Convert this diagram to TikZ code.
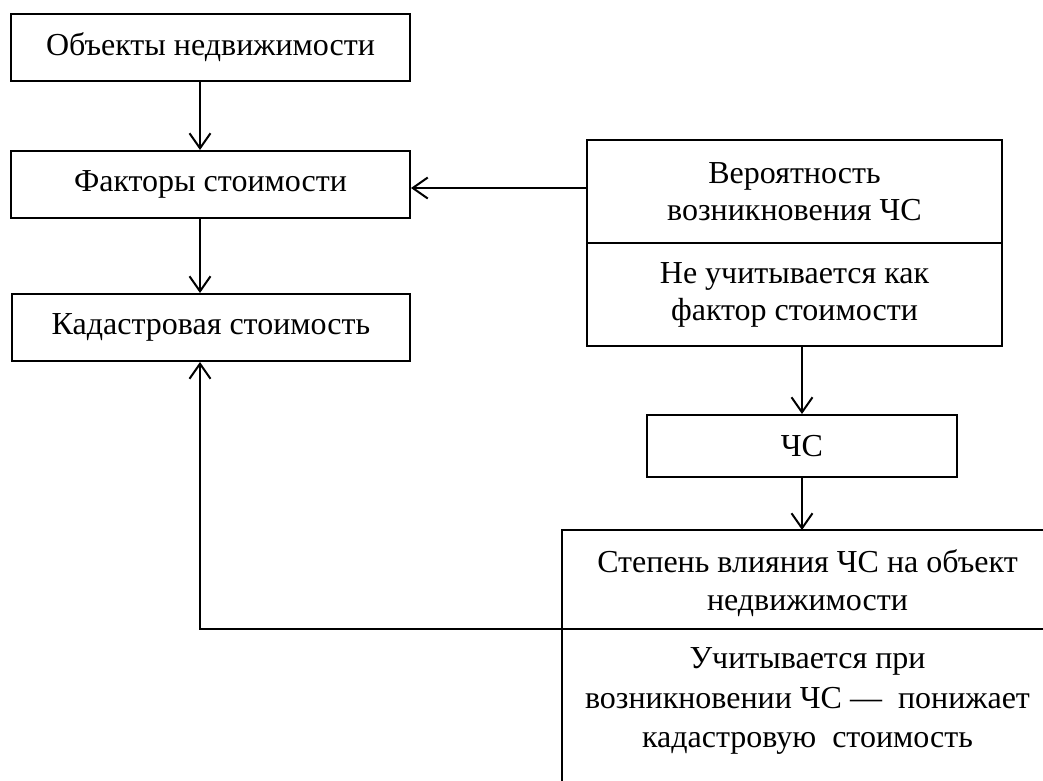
\documentclass[tikz,border=0pt]{standalone}
\usepackage{fontspec}
\setmainfont{Liberation Serif}
\usetikzlibrary{arrows.meta}
\begin{document}
\begin{tikzpicture}[x=1pt,y=-1pt,line width=2pt,
  txt/.style={inner sep=0pt,align=center,font=\fontsize{32}{37}\selectfont},
  box/.style={txt,draw,line width=2pt},
  arr/.style={-{Straight Barb[length=15pt,width=21pt]},line width=2pt}]
\useasboundingbox (0,0) rectangle (1043,780);
\clip (0,0) rectangle (1043,780);
% left column
\node[box,minimum width=399pt,minimum height=67pt] (obj) at (210.5,47.5) {Объекты недвижимости};
\node[box,minimum width=399pt,minimum height=67pt] (fac) at (210.5,184.5) {Факторы стоимости};
\node[box,minimum width=398pt,minimum height=67pt] (kad) at (211,327.5) {Кадастровая стоимость};
\coordinate (cl) at (200,0);
% right column
\node[box,minimum width=415pt,minimum height=103pt] (prob) at (794.5,191.5) {Вероятность\\возникновения ЧС};
\node[box,minimum width=415pt,minimum height=103pt] (nouch) at (794.5,294.5) {Не учитывается как\\фактор стоимости};
\node[box,minimum width=310pt,minimum height=62pt] (chs) at (802,446) {ЧС};
\coordinate (cr) at (802,0);
% bottom (cropped) box
\coordinate (bbtop) at (802,530);
\coordinate (bbtl) at (562,530);
\coordinate (bbdiv) at (562,629);
\draw (562,800) -- (bbtl) -- (1060,530);
\node[txt,font=\fontsize{32}{38}\selectfont] (stepen) at (807.5,583) {Степень влияния ЧС на объект\\недвижимости};
\node[txt,font=\fontsize{32}{39.5}\selectfont] (uchit) at (807.5,701) {Учитывается при\\возникновении ЧС —\ \ понижает\\кадастровую\ \ стоимость};
% connectors
\draw[arr] (obj.south -| cl) -- (fac.north -| cl);
\draw[arr] (fac.south -| cl) -- (kad.north -| cl);
\draw[arr] (prob.west |- 0,188) -- (fac.east |- 0,188);
\draw[arr] (nouch.south -| cr) -- (chs.north -| cr);
\draw[arr] (chs.south) -- (bbtop);
\draw[arr] (1060,629) -- (cl |- bbdiv) -- (kad.south -| cl);
\end{tikzpicture}
\end{document}
